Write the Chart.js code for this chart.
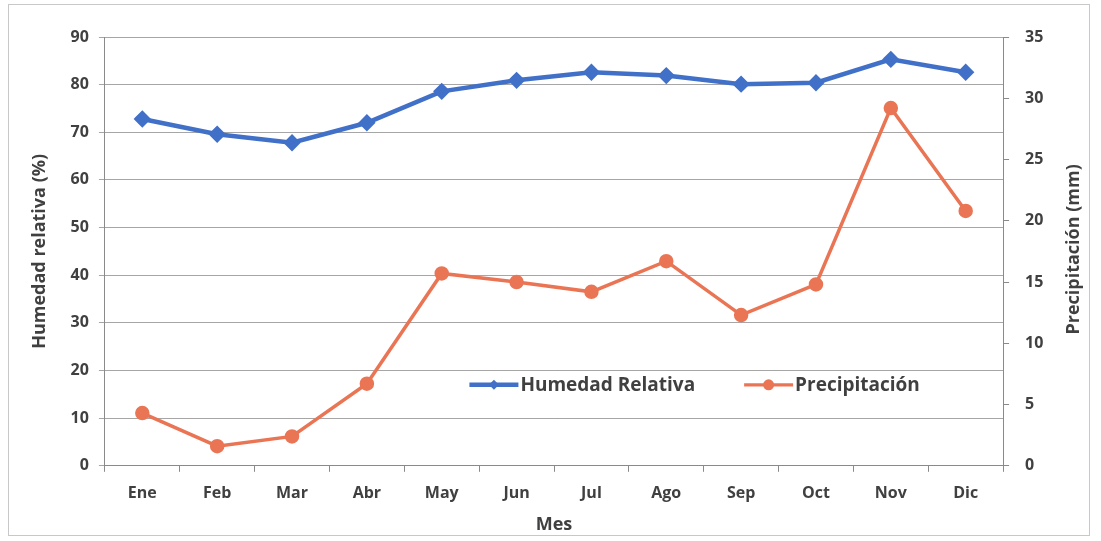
<!DOCTYPE html>
<html>
<head>
<meta charset="utf-8">
<script src="https://cdn.jsdelivr.net/npm/chart.js@4.4.1/dist/chart.umd.min.js"></script>
<style>
  html, body { margin: 0; padding: 0; background: #fff; }
  #wrap { position: relative; width: 1101px; height: 541px; }
  #frame { position: absolute; left: 8px; top: 4px; width: 1082px; height: 532px; border: 1px solid #c8c8c8; box-sizing: border-box; pointer-events: none; }
</style>
</head>
<body>
<div id="wrap">
  <canvas id="chart" width="1101" height="541"></canvas>
  <div id="frame"></div>
</div>
<script>
// data
const months = ['Ene', 'Feb', 'Mar', 'Abr', 'May', 'Jun', 'Jul', 'Ago', 'Sep', 'Oct', 'Nov', 'Dic'];
const humedad = [72.8, 69.6, 67.8, 72.0, 78.6, 80.9, 82.6, 81.9, 80.1, 80.4, 85.3, 82.6];
const precipitacion = [4.3, 1.6, 2.4, 6.7, 15.7, 15.0, 14.2, 16.7, 12.3, 14.8, 29.2, 20.8];

const BLUE = '#4170c8';
const ORANGE = '#ea7555';
const TEXT = '#404040';
const FONT = '"Open Sans", "Noto Sans", sans-serif';

// legend inside the plot area + right axis title read bottom-to-top, like the original
const extrasPlugin = {
  id: 'extras',
  afterDraw: (chart) => {
    const ctx = chart.ctx;
    const x = chart.scales.x;
    const y = chart.scales.y;
    const y1 = chart.scales.y1;
    const ly = y.getPixelForValue(17);
    const items = [
      { text: 'Humedad Relativa', color: BLUE, x0: x.getPixelForValue(4.37), w: 4.5, shape: 'diamond' },
      { text: 'Precipitación', color: ORANGE, x0: x.getPixelForValue(8.04), w: 3.2, shape: 'circle' }
    ];
    ctx.save();
    ctx.font = 'bold 19px ' + FONT;
    ctx.textBaseline = 'middle';
    items.forEach(it => {
      const x1 = it.x0 + 49;
      const mid = (it.x0 + x1) / 2;
      ctx.beginPath();
      ctx.strokeStyle = it.color;
      ctx.lineWidth = it.w;
      ctx.moveTo(it.x0, ly);
      ctx.lineTo(x1, ly);
      ctx.stroke();
      ctx.fillStyle = it.color;
      ctx.beginPath();
      if (it.shape === 'diamond') {
        ctx.moveTo(mid, ly - 5); ctx.lineTo(mid + 5, ly); ctx.lineTo(mid, ly + 5); ctx.lineTo(mid - 5, ly);
      } else {
        ctx.arc(mid, ly, 5.5, 0, Math.PI * 2);
      }
      ctx.fill();
      ctx.fillStyle = TEXT;
      ctx.fillText(it.text, x1 + 2, ly + 1);
    });

    ctx.font = 'bold 18px ' + FONT;
    ctx.translate(y1.right - 27, (y1.top + y1.bottom) / 2 - 2);
    ctx.rotate(-Math.PI / 2);
    ctx.textAlign = 'center';
    ctx.fillStyle = TEXT;
    ctx.fillText('Precipitación (mm)', 0, 0);
    ctx.restore();
  }
};

new Chart(document.getElementById('chart').getContext('2d'), {
  type: 'line',
  data: {
    labels: months,
    datasets: [
      { label: 'Humedad Relativa', data: humedad, borderColor: BLUE, backgroundColor: BLUE, borderWidth: 4.5, pointStyle: 'rectRot', pointRadius: 5.5, yAxisID: 'y', tension: 0 },
      { label: 'Precipitación', data: precipitacion, borderColor: ORANGE, backgroundColor: ORANGE, borderWidth: 3.5, pointStyle: 'circle', pointRadius: 5.5, yAxisID: 'y1', tension: 0 }
    ]
  },
  options: {
    responsive: false, animation: false,
    layout: { padding: { top: 37, bottom: 0, left: 25, right: 0 } },
    plugins: { legend: { display: false }, tooltip: { enabled: false } },
    scales: {
      x: {
        offset: true,
        grid: { display: true, drawOnChartArea: false, offset: true, tickLength: 6, color: '#8a8a8a' },
        border: { color: '#8a8a8a' },
        ticks: { color: TEXT, font: { family: FONT, size: 16, weight: 'bold' }, padding: 12 },
        title: { display: true, text: 'Mes', color: TEXT, font: { family: FONT, size: 18, weight: 'bold', lineHeight: 1 }, padding: { top: 1, bottom: 7 } }
      },
      y: {
        position: 'left', min: 0, max: 90,
        grid: { color: '#a6a6a6', tickLength: 6 },
        border: { color: '#8a8a8a' },
        ticks: { stepSize: 10, color: TEXT, font: { family: FONT, size: 16, weight: 'bold' }, padding: 10 },
        title: { display: true, text: 'Humedad relativa (%)', color: TEXT, font: { family: FONT, size: 18, weight: 'bold' }, padding: { bottom: 10 } }
      },
      y1: {
        position: 'right', min: 0, max: 35,
        grid: { drawOnChartArea: false, tickLength: 6, color: '#8a8a8a' },
        border: { color: '#8a8a8a' },
        ticks: { stepSize: 5, color: TEXT, font: { family: FONT, size: 16, weight: 'bold' }, padding: 16 },
        // space kept by the library, text drawn by the plugin (rotated the other way)
        title: { display: true, text: 'Precipitación (mm)', color: 'rgba(0,0,0,0)', font: { family: FONT, size: 18, weight: 'bold' }, padding: { top: 16 } }
      }
    }
  },
  plugins: [extrasPlugin]
});
</script>
</body>
</html>
